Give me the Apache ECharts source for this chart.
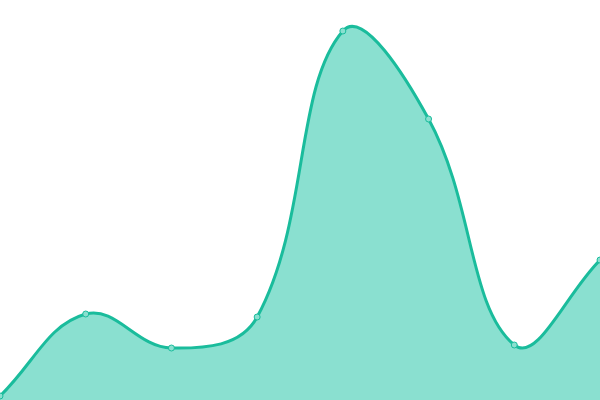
<!DOCTYPE html>
<html>
<head>
    <meta charset="utf-8">
    <title>area</title>
    <script src="https://cdn.jsdelivr.net/npm/echarts@6/dist/echarts.min.js"></script>
    <style>html,body{margin:0;padding:0;background:#fff;}</style>
</head>
<body>
    <div id="main" style="width: 600px;height:400px;"></div>
    <script type="text/javascript">
    // data
    var categories = ['A', 'B', 'C', 'D', 'E', 'F', 'G', 'H'];
    var values = [4, 86, 52, 83, 369, 281, 55, 140];

    var tension = 0.4;

    var myChart = echarts.init(document.getElementById('main'));

    // cardinal spline through the points (overshoots a bit at peaks, like the reference)
    function splinePath(pts) {
        var cps = [];
        for (var i = 0; i < pts.length; i++) {
            var cur = pts[i];
            var prev = pts[i - 1] || cur;
            var next = pts[i + 1] || cur;
            var d01 = Math.hypot(cur[0] - prev[0], cur[1] - prev[1]);
            var d12 = Math.hypot(next[0] - cur[0], next[1] - cur[1]);
            var s01 = d01 / (d01 + d12) || 0;
            var s12 = d12 / (d01 + d12) || 0;
            var fa = tension * s01, fb = tension * s12;
            cps.push({
                prev: [cur[0] - fa * (next[0] - prev[0]), cur[1] - fa * (next[1] - prev[1])],
                next: [cur[0] + fb * (next[0] - prev[0]), cur[1] + fb * (next[1] - prev[1])]
            });
        }
        var d = 'M' + pts[0][0] + ' ' + pts[0][1];
        for (var j = 1; j < pts.length; j++) {
            var a = cps[j - 1].next, b = cps[j].prev;
            d += ' C' + a[0] + ' ' + a[1] + ' ' + b[0] + ' ' + b[1] + ' ' + pts[j][0] + ' ' + pts[j][1];
        }
        return d;
    }

    function renderArea(params, api) {
        if (params.dataIndex !== 0) return { type: 'group', children: [] };
        var pts = values.map(function (v, i) { return api.coord([i, v]); });
        var base = api.coord([0, 0])[1];
        var line = splinePath(pts);
        var last = pts[pts.length - 1];
        var area = line + ' L' + last[0] + ' ' + base + ' L' + pts[0][0] + ' ' + base + ' Z';
        return {
            type: 'group',
            children: [
                { type: 'path', shape: { pathData: area }, style: { fill: '#8ae0d0' }, z2: 0 },
                { type: 'path', shape: { pathData: line }, style: { fill: null, stroke: '#1abc9c', lineWidth: 3 }, z2: 1 }
            ]
        };
    }

    var option = {
        animation: false,
        grid: { left: 0, right: 0, top: 0, bottom: 0 },
        xAxis: {
            type: 'category',
            boundaryGap: false,
            data: categories,
            show: false
        },
        yAxis: {
            type: 'value',
            min: 0,
            max: 400,
            show: false
        },
        series: [{
            type: 'custom',
            renderItem: renderArea,
            data: values.map(function (v, i) { return [i, v]; }),
            clip: false,
            z: 1
        }, {
            type: 'scatter',
            data: values.map(function (v, i) { return [i, v]; }),
            symbol: 'circle',
            symbolSize: 6,
            itemStyle: { color: '#8ae0d0', borderColor: '#1abc9c', borderWidth: 1, opacity: 1 },
            z: 3
        }]
    };

    myChart.setOption(option);
    </script>
</body>
</html>
